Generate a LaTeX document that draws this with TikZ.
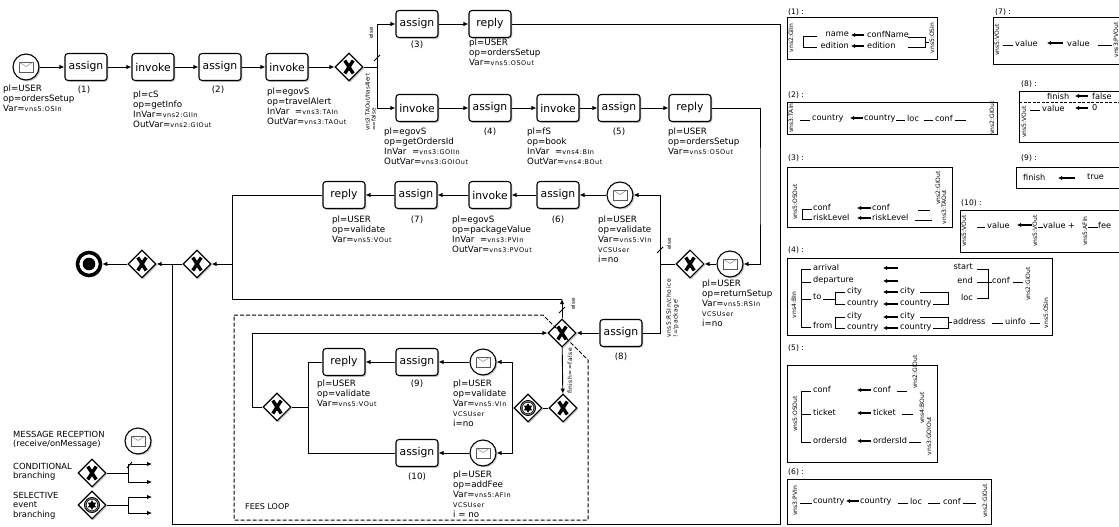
\documentclass[tikz,border=0pt]{standalone}
\usepackage{fontspec}
\setmainfont{DejaVu Sans}
\newfontfamily\varfont[LetterSpace=8]{DejaVu Sans}
\usetikzlibrary{shapes.geometric,shadows,arrows.meta}
\newcommand\vs[1]{{\varfont\fontsize{6.5}{7}\selectfont #1}}
\begin{document}
\begin{tikzpicture}[x=1pt,y=-1pt,
 shd/.style={drop shadow={shadow xshift=1.4pt,shadow yshift=-1.4pt,opacity=0.45}},
 task/.style={draw,line width=1.1pt,rounded corners=3pt,fill=white,minimum width=42pt,minimum height=27pt,inner sep=0pt,font=\fontsize{10.8}{12}\selectfont,shd},
 msg/.style={circle,draw,line width=1.1pt,fill=white,minimum size=26pt,inner sep=0pt,shd,path picture={
   \draw[line width=0.7pt,black!65] ([shift={(-7pt,-5pt)}]path picture bounding box.center) rectangle ([shift={(7pt,5pt)}]path picture bounding box.center);
   \draw[line width=0.5pt,black!45] ([shift={(-7pt,5pt)}]path picture bounding box.center) -- ([shift={(0pt,0.5pt)}]path picture bounding box.center) -- ([shift={(7pt,5pt)}]path picture bounding box.center);}},
 gw/.style={diamond,aspect=1,draw,line width=1.1pt,fill=white,minimum width=28pt,minimum height=28pt,inner sep=0pt,shd,path picture={
   \draw[black,line width=3.4pt] ([shift={(-4.2pt,-6.5pt)}]path picture bounding box.center) -- ([shift={(4.2pt,6.5pt)}]path picture bounding box.center);
   \draw[black,line width=3.4pt] ([shift={(-4.2pt,6.5pt)}]path picture bounding box.center) -- ([shift={(4.2pt,-6.5pt)}]path picture bounding box.center);}},
 egw/.style={diamond,aspect=1,draw,line width=1.1pt,fill=white,minimum width=28pt,minimum height=28pt,inner sep=0pt,shd,path picture={
   \filldraw[fill=black!45,draw=black,line width=0.9pt] (path picture bounding box.center) circle[radius=7.5pt];
   \filldraw[fill=white,draw=black,line width=0.5pt] (path picture bounding box.center) circle[radius=5.8pt];
   \fill[black] ([shift={(90:4.8pt)}]path picture bounding box.center) -- ([shift={(210:4.8pt)}]path picture bounding box.center) -- ([shift={(330:4.8pt)}]path picture bounding box.center) -- cycle;
   \fill[black] ([shift={(270:4.8pt)}]path picture bounding box.center) -- ([shift={(30:4.8pt)}]path picture bounding box.center) -- ([shift={(150:4.8pt)}]path picture bounding box.center) -- cycle;}},
 endev/.style={circle,draw,line width=3.6pt,fill=white,minimum size=23pt,inner sep=0pt,shd,path picture={\fill[black] (path picture bounding box.center) circle[radius=6.3pt];}},
 conn/.style={line width=0.9pt},
 arr/.style={line width=0.9pt,-{Latex[length=5pt,width=4.5pt]}},
 lbl/.style={anchor=north west,align=left,inner sep=0pt,font=\fontsize{8.7}{9.8}\selectfont},
 num/.style={inner sep=0pt,font=\fontsize{8.7}{10}\selectfont},
 rot/.style={rotate=90,inner sep=0pt,align=left,font=\fontsize{5.6}{6.2}\selectfont},
 rotb/.style={rotate=90,inner sep=0pt,align=left,font=\varfont\fontsize{6}{6.8}\selectfont},
 pnl/.style={anchor=west,inner sep=0pt,font=\fontsize{8.2}{9}\selectfont},
 pnle/.style={anchor=east,inner sep=0pt,font=\fontsize{8.2}{9}\selectfont},
 prot/.style={rotate=90,inner sep=0pt,font=\fontsize{6}{6.5}\selectfont},
 phdr/.style={anchor=west,inner sep=0pt,font=\fontsize{7.6}{8}\selectfont},
 pbox/.style={draw,line width=1pt},
 pline/.style={line width=0.8pt},
 parr/.style={line width=1.1pt,-{Latex[length=4pt,width=4.2pt]}},
 lgd/.style={anchor=north west,align=left,inner sep=0pt,font=\fontsize{8.4}{9.4}\selectfont}
]
\useasboundingbox (0,0) rectangle (1119,527);
\clip (0,0) rectangle (1119,527);

% ---------- top row ----------
\node[msg] (s0) at (26,67) {};
\node[task] (a1) at (86,67) {assign};
\node[task] (i1) at (153,67) {invoke};
\node[task] (a2) at (220,67) {assign};
\node[task] (i2) at (287,67) {invoke};
\node[gw] (g1) at (349,67) {};
\coordinate (g1s) at (377,67);
\node[task] (a3) at (417,24) {assign};
\node[task] (r3) at (490,24) {reply};
\node[task] (i3) at (417,108) {invoke};
\node[task] (a4) at (490,108) {assign};
\node[task] (i4) at (558,108) {invoke};
\node[task] (a5) at (619,108) {assign};
\node[task] (r5) at (690,108) {reply};

\node[lbl] (l0) at (3,85) {pl=USER\\op=ordersSetup\\Var=\vs{vns5:OSIn}};
\node[num] (n1) at (84,90) {(1)};
\node[lbl] (l1) at (133,91) {pl=cS\\op=getInfo\\InVar=\vs{vns2:GIIn}\\OutVar=\vs{vns2:GIOut}};
\node[num] (n2) at (218,90) {(2)};
\node[lbl] (l2) at (267,88) {pl=egovS\\op=travelAlert\\InVar\ \ =\vs{vns3:TAIn}\\OutVar=\vs{vns3:TAOut}};
\node[num] (n3) at (417,45) {(3)};
\node[lbl] (l3) at (469,39) {pl=USER\\op=ordersSetup\\Var=\vs{vns5:OSOut}};
\node[lbl] (l4) at (384,128) {pl=egovS\\op=getOrdersId\\InVar\ \ =\vs{vns3:GOIIn}\\OutVar=\vs{vns3:GOIOut}};
\node[num] (n4) at (490,132) {(4)};
\node[lbl] (l5) at (527,128) {pl=fS\\op=book\\InVar\ \ =\vs{vns4:BIn}\\OutVar=\vs{vns4:BOut}};
\node[num] (n5) at (619,132) {(5)};
\node[lbl] (l6) at (668,128) {pl=USER\\op=ordersSetup\\Var=\vs{vns5:OSOut}};

\draw[arr] (s0) -- (a1);
\draw[arr] (a1) -- (i1);
\draw[arr] (i1) -- (a2);
\draw[arr] (a2) -- (i2);
\draw[arr] (i2) -- (g1);
\draw[conn] (g1.east) -- (g1s);
\draw[arr] (g1s) |- (a3.west);
\draw[arr] (g1s) |- (i3.west);
\draw[conn] (374,61) -- (380,55);
\node[rot] (t1e) at (371,33) {else};
\node[rot,anchor=south west] (t1c) at (376,131) {vns3:TAOut/hasAlert\\==false};
\draw[arr] (a3) -- (r3);
\draw[arr] (i3) -- (a4);
\draw[arr] (a4) -- (i4);
\draw[arr] (i4) -- (a5);
\draw[arr] (a5) -- (r5);

% ---------- middle row ----------
\node[task] (r7) at (344,195) {reply};
\node[task] (a7) at (416,195) {assign};
\node[task] (i7) at (490,195) {invoke};
\node[task] (a6) at (558,195) {assign};
\node[msg] (m6) at (620,195) {};
\node[gw] (g2) at (690,264) {};
\node[msg] (m8) at (730,264) {};
\coordinate (sp2) at (660,264);
\coordinate (rr) at (760,186);

\node[lbl] (l7) at (332,216) {pl=USER\\op=validate\\Var=\vs{vns5:VOut}};
\node[num] (n7) at (417,220) {(7)};
\node[lbl] (l8) at (452,216) {pl=egovS\\op=packageValue\\InVar\ \ =\vs{vns3:PVIn}\\OutVar=\vs{vns3:PVOut}};
\node[num] (n6) at (558,220) {(6)};
\node[lbl] (l9) at (598,216) {pl=USER\\op=validate\\Var=\vs{vns5:VIn}\\\vs{VCSUser}\\i=no};
\node[lbl] (l10) at (702,280) {pl=USER\\op=returnSetup\\Var=\vs{vns5:RSIn}\\\vs{VCSUser}\\i=no};

\draw[arr] (r5.east) -| (rr) |- (m8.east);
\draw[arr] (m8) -- (g2);
\draw[conn] (g2.west) -- (sp2);
\draw[arr] (sp2) |- (m6.east);
\draw[conn] (657,253) -- (663,247);
\node[rot] (t2e) at (669,244) {else};
\node[rotb,anchor=north west] (t2c) at (666,338) {vns5:RSIn/choice\\!=\textquotesingle package\textquotesingle};
\draw[arr] (m6) -- (a6);
\draw[arr] (a6) -- (i7);
\draw[arr] (i7) -- (a7);
\draw[arr] (a7) -- (r7);

% ---------- end part ----------
\node[gw] (g6) at (197,264) {};
\node[gw] (g7) at (142,264) {};
\node[endev] (end) at (89,264) {};
\coordinate (j1) at (232,264);
\draw[arr] (r7.west) -| (j1) -- (g6.east);
\draw[arr] (g6) -- (g7);
\draw[arr] (g7) -- (end);
\coordinate (c1) at (780,24);
\coordinate (c2) at (780,524);
\coordinate (c3) at (172,524);
\coordinate (c4) at (172,264);
\draw[conn] (r3.east) -- (c1) -- (c2) -- (c3) -- (c4);

% ---------- loop ----------
\node[task] (a8) at (621,333) {assign};
\node[num] (n8) at (621,357) {(8)};
\node[gw] (g3) at (562,333) {};
\node[gw] (g4) at (563,408) {};
\node[egw] (eg) at (528,408) {};
\node[msg] (m9) at (483,362) {};
\node[msg] (m10) at (483,453) {};
\node[task] (a9) at (417,362) {assign};
\node[num] (n9) at (417,384) {(9)};
\node[task] (a10) at (417,453) {assign};
\node[num] (n10) at (417,477) {(10)};
\node[task] (r9) at (344,362) {reply};
\node[gw] (g5) at (277,407) {};
\coordinate (k1) at (562,299);
\coordinate (e1) at (512,408);
\coordinate (q1) at (308,407);
\coordinate (q2) at (252,407);

\node[lbl] (l11) at (453,380) {pl=USER\\op=validate\\Var=\vs{vns5:VIn}\\\vs{VCSUser}\\i=no};
\node[lbl] (l12) at (453,471) {pl=USER\\op=addFee\\Var=\vs{vns5:AFIn}\\\vs{VCSUser}\\i = no};
\node[lbl] (l13) at (317,380) {pl=USER\\op=validate\\Var=\vs{vns5:VOut}};

\draw[conn] (sp2) |- (a8.east);
\draw[arr] (a8) -- (g3);
\draw[arr] (g3.north) -- (k1);
\draw[conn] (k1) -| (j1);
\draw[conn] (559,313) -- (565,307);
\node[rot] (t3e) at (573,304) {else};
\draw[arr] (g3) -- (g4);
\node[rotb] (t3c) at (570,371) {finish==false};
\draw[conn] (g4) -- (eg);
\draw[conn] (eg.west) -- (e1);
\draw[arr] (e1) |- (m9.east);
\draw[arr] (e1) |- (m10.east);
\draw[arr] (m9) -- (a9);
\draw[arr] (a9) -- (r9);
\draw[arr] (m10) -- (a10);
\draw[conn] (r9.west) -| (q1);
\draw[conn] (a10.west) -| (q1);
\draw[conn] (q1) -- (g5.east);
\draw[arr] (g5.west) -- (q2) |- (g3.west);
\draw[line width=1pt,dash pattern=on 4pt off 2pt] (234,315) -- (543,315) -- (588,360) -- (588,520) -- (234,520) -- cycle;
\node[anchor=west,inner sep=0pt,font=\fontsize{8}{9}\selectfont] (fl) at (245,507) {FEES LOOP};

% ---------- legend ----------
\node[lgd] (lg1) at (13,431) {MESSAGE RECEPTION\\(receive/onMessage)};
\node[msg] (lm) at (138,441) {};
\node[lgd] (lg2) at (13,463) {CONDITIONAL\\branching};
\node[gw] (lgw) at (92,473) {};
\coordinate (lc) at (128,473);
\coordinate (lc1) at (128,464);
\coordinate (lc2) at (128,482);
\coordinate (lt1) at (152,464);
\coordinate (lt2) at (152,482);
\draw[conn] (lgw.east) -- (lc);
\draw[conn] (lc1) -- (lc2);
\draw[arr] (lc1) -- (lt1);
\draw[arr] (lc2) -- (lt2);
\draw[conn] (127,468) -- (132,462);
\node[lgd] (lg3) at (13,492) {SELECTIVE\\event\\branching};
\node[egw] (leg) at (92,505) {};
\coordinate (ld) at (128,505);
\coordinate (ld1) at (128,497);
\coordinate (ld2) at (128,513);
\coordinate (lu1) at (152,497);
\coordinate (lu2) at (152,513);
\draw[conn] (leg.east) -- (ld);
\draw[conn] (ld1) -- (ld2);
\draw[arr] (ld1) -- (lu1);
\draw[arr] (ld2) -- (lu2);

% ---------- panel (1) ----------
\node[phdr] (h1) at (788,12) {(1) :};
\draw[pbox] (787,18) rectangle (937,60);
\node[prot] (p1a) at (791,38) {vns2:GIIn};
\draw[pline] (817,36) -- (803,36) -- (803,47) -- (817,47);
\node[pnle] (p1b) at (849,34) {name};
\node[pnle] (p1c) at (849,45) {edition};
\draw[parr] (864,35) -- (851,35);
\draw[parr] (864,46) -- (851,46);
\node[pnl] (p1d) at (867,34) {confName};
\node[pnl] (p1e) at (867,45) {edition};
\draw[pline] (908,37) -- (925,37) -- (925,47) -- (908,47);
\draw[pline] (925,42) -- (929,42);
\node[prot] (p1f) at (932,38) {vns5:OSIn};

% ---------- panel (7) ----------
\node[phdr] (h7) at (995,12) {(7) :};
\draw[pbox] (993,18) rectangle (1130,65);
\node[prot] (p7a) at (997,40) {vns5:VOut};
\draw[pline] (1003,45) -- (1013,45);
\node[pnl] (p7b) at (1015,43) {value};
\draw[parr] (1063,43) -- (1047,43);
\node[pnl] (p7c) at (1067,43) {value};
\draw[pline] (1098,45) -- (1112,45);
\node[prot] (p7d) at (1116,40) {vns3:PVOut};

% ---------- panel (2) ----------
\node[phdr] (h2) at (788,95) {(2) :};
\draw[pbox] (787,102) rectangle (997,134);
\node[prot] (p2a) at (791,118) {vns3:TAIn};
\draw[pline] (800,120) -- (810,120);
\node[pnl] (p2b) at (812,118) {country};
\draw[parr] (863,118) -- (850,118);
\node[pnl] (p2c) at (864,118) {country};
\draw[pline] (896,120) -- (905,120);
\node[pnl] (p2d) at (907,118) {loc};
\draw[pline] (924,120) -- (933,120);
\node[pnl] (p2e) at (935,118) {conf};
\draw[pline] (955,120) -- (966,120);
\node[prot] (p2f) at (992,118) {vns2:GIOut};

% ---------- panel (8) ----------
\node[phdr] (h8) at (1021,84) {(8) :};
\draw[pbox] (1019,91) rectangle (1130,142);
\draw[pline,dash pattern=on 3pt off 1.5pt] (1019,102) -- (1130,102);
\node[pnl] (p8a) at (1047,96) {finish};
\draw[parr] (1088,96) -- (1075,96);
\node[pnl] (p8b) at (1092,96) {false};
\node[prot] (p8c) at (1024,122) {vns5:VOut};
\draw[pline] (1030,110) -- (1040,110);
\node[pnl] (p8d) at (1042,108) {value};
\draw[parr] (1088,108) -- (1075,108);
\node[pnl] (p8e) at (1092,108) {0};

% ---------- panel (9) ----------
\node[phdr] (h9) at (1021,158) {(9) :};
\draw[pbox] (1016,167) rectangle (1130,188);
\node[pnl] (p9a) at (1023,177) {finish};
\draw[parr] (1075,178) -- (1058,178);
\node[pnl] (p9b) at (1087,177) {true};

% ---------- panel (10) ----------
\node[phdr] (h10) at (961,203) {(10) :};
\draw[pbox] (960,210) rectangle (1130,252);
\node[prot] (p10a) at (964,231) {vns5:VOut};
\draw[pline] (977,227) -- (985,227);
\node[pnl] (p10b) at (987,225) {value};
\draw[parr] (1032,225) -- (1017,225);
\node[prot] (p10c) at (1035,231) {vns5:VOut};
\draw[pline] (1038,227) -- (1043,227);
\node[pnl] (p10d) at (1043,225) {value +};
\node[prot] (p10e) at (1085,231) {vns5:AFIn};
\draw[pline] (1088,227) -- (1098,227);
\node[pnl] (p10f) at (1098,225) {fee};

% ---------- panel (3) ----------
\node[phdr] (h3) at (788,158) {(3) :};
\draw[pbox] (787,167) rectangle (952,227);
\node[prot] (p3a) at (795,202) {vns5:OSOut};
\draw[pline] (812,209) -- (802,209) -- (802,219) -- (812,219);
\node[pnl] (p3b) at (813,207) {conf};
\node[pnl] (p3c) at (813,217) {riskLevel};
\draw[parr] (871,208) -- (857,208);
\draw[parr] (871,218) -- (857,218);
\node[pnl] (p3d) at (872,207) {conf};
\node[pnl] (p3e) at (872,217) {riskLevel};
\draw[pline] (918,210) -- (930,210);
\draw[pline] (915,220) -- (932,220);
\node[prot] (p3f) at (938,188) {vns2:GIOut};
\node[prot] (p3g) at (944,207) {vns3:TAOut};

% ---------- panel (4) ----------
\node[phdr] (h4) at (788,250) {(4) :};
\draw[pbox] (787,258) rectangle (1052,335);
\node[prot] (p4a) at (794,305) {vns4:BIn};
\draw[pline] (811,269) -- (801,269) -- (801,327) -- (811,327);
\draw[pline] (801,282) -- (811,282);
\draw[pline] (801,299) -- (811,299);
\node[pnl] (p4b) at (813,267) {arrival};
\node[pnl] (p4c) at (813,280) {departure};
\node[pnl] (p4d) at (813,297) {to};
\node[pnl] (p4e) at (813,325) {from};
\draw[pline] (823,299) -- (835,299);
\draw[pline] (845,292) -- (835,292) -- (835,304) -- (845,304);
\draw[pline] (845,317) -- (835,317) -- (835,328) -- (845,328);
\node[pnl] (p4f) at (847,291) {city};
\node[pnl] (p4g) at (847,303) {country};
\node[pnl] (p4h) at (847,316) {city};
\node[pnl] (p4i) at (847,327) {country};
\draw[parr] (898,268) -- (883,268);
\draw[parr] (898,281) -- (883,281);
\draw[parr] (898,292) -- (883,292);
\draw[parr] (898,304) -- (883,304);
\draw[parr] (898,317) -- (883,317);
\draw[parr] (898,328) -- (883,328);
\node[pnl] (p4j) at (900,291) {city};
\node[pnl] (p4k) at (900,303) {country};
\node[pnl] (p4l) at (900,316) {city};
\node[pnl] (p4m) at (900,327) {country};
\draw[pline] (920,292) -- (948,292) -- (948,304) -- (933,304);
\draw[pline] (920,317) -- (948,317) -- (948,328) -- (933,328);
\draw[pline] (948,322) -- (952,322);
\node[pnl] (p4n) at (953,321) {address};
\draw[pline] (992,323) -- (1003,323);
\node[pnl] (p4o) at (1005,321) {uinfo};
\draw[pline] (1030,323) -- (1040,323);
\node[prot] (p4p) at (1046,313) {vns5:OSIn};
\node[pnle] (p4q) at (973,267) {start};
\node[pnle] (p4r) at (973,280) {end};
\node[pnle] (p4s) at (973,297) {loc};
\draw[pline] (977,269) -- (988,269) -- (988,298) -- (977,298);
\draw[pline] (977,282) -- (992,282);
\node[pnl] (p4t) at (992,280) {conf};
\draw[pline] (1013,282) -- (1023,282);
\node[prot] (p4u) at (1028,284) {vns2:GIOut};

% ---------- panel (5) ----------
\node[phdr] (h5) at (788,348) {(5) :};
\draw[pbox] (787,365) rectangle (937,462);
\node[prot] (p5a) at (795,414) {vns5:OSOut};
\draw[pline] (811,391) -- (801,391) -- (801,442) -- (811,442);
\draw[pline] (801,414) -- (811,414);
\node[pnl] (p5b) at (813,389) {conf};
\node[pnl] (p5c) at (813,412) {ticket};
\node[pnl] (p5d) at (813,440) {ordersId};
\draw[parr] (871,390) -- (857,390);
\draw[parr] (871,413) -- (857,413);
\draw[parr] (871,441) -- (857,441);
\node[pnl] (p5e) at (873,389) {conf};
\node[pnl] (p5f) at (873,412) {ticket};
\node[pnl] (p5g) at (873,440) {ordersId};
\draw[pline] (897,391) -- (907,391);
\draw[pline] (902,414) -- (913,414);
\draw[pline] (909,442) -- (921,442);
\node[prot] (p5h) at (915,372) {vns2:GIOut};
\node[prot] (p5i) at (922,408) {vns4:BOut};
\node[prot] (p5j) at (929,436) {vns3:GOIOut};

% ---------- panel (6) ----------
\node[phdr] (h6) at (788,472) {(6) :};
\draw[pbox] (787,479) rectangle (991,524);
\node[prot] (p6a) at (795,501) {vns3:PVIn};
\draw[pline] (800,503) -- (812,503);
\node[pnl] (p6b) at (813,501) {country};
\draw[parr] (859,501) -- (846,501);
\node[pnl] (p6c) at (860,501) {country};
\draw[pline] (898,503) -- (908,503);
\node[pnl] (p6d) at (910,501) {loc};
\draw[pline] (928,503) -- (940,503);
\node[pnl] (p6e) at (943,501) {conf};
\draw[pline] (963,503) -- (976,503);
\node[prot] (p6f) at (985,501) {vns2:GIOut};
\end{tikzpicture}
\end{document}
